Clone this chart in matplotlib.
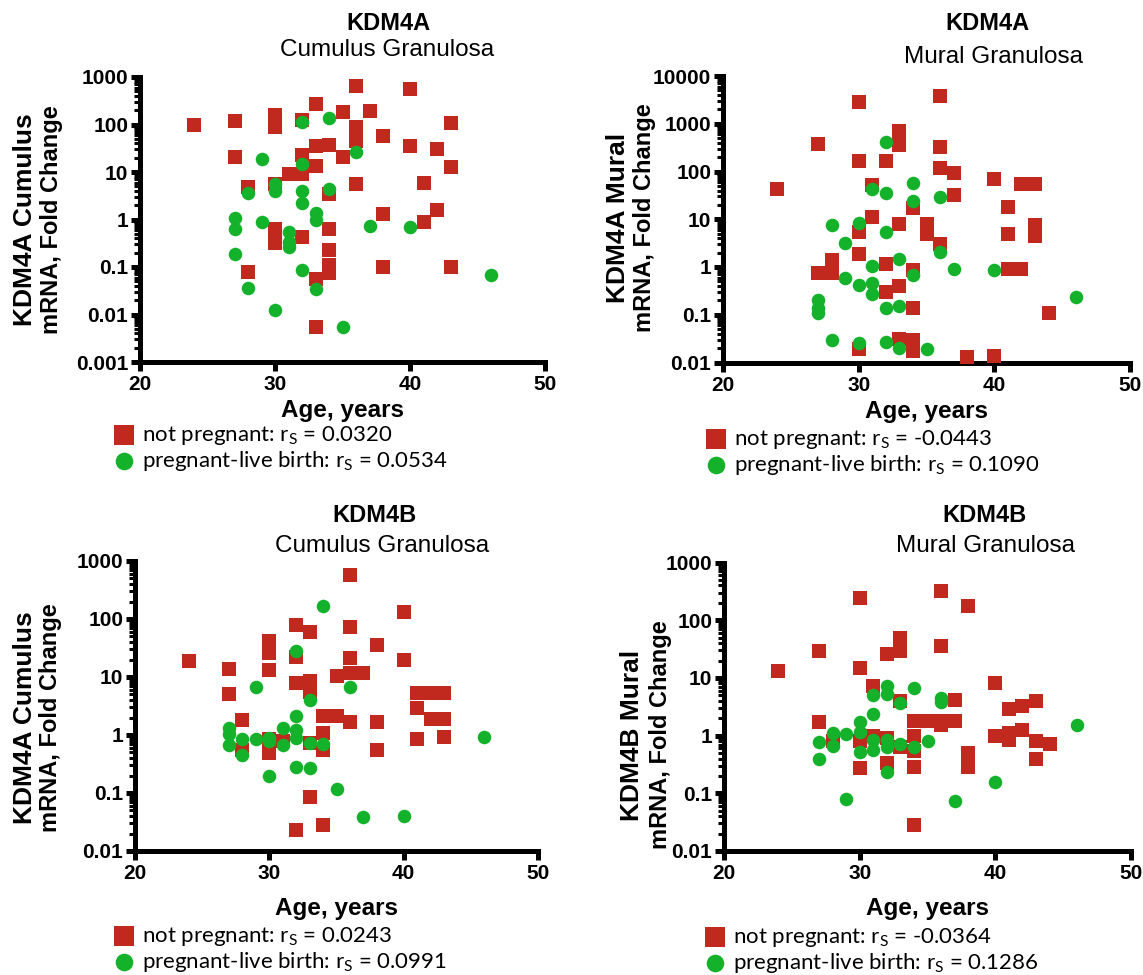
import numpy as np
import matplotlib.pyplot as plt
from matplotlib.ticker import FixedLocator, FuncFormatter, LogLocator, NullLocator

plt.rcParams['font.family'] = ['Liberation Sans', 'DejaVu Sans']
plt.rcParams['mathtext.fontset'] = 'custom'
plt.rcParams['mathtext.rm'] = 'Lato'

RED = '#C1291E'
GREEN = '#14B12A'

# ---- data (age in years, fold change) ----
# KDM4A cumulus
a_cum_np_age = [24, 27, 30, 30, 32, 33, 35, 36, 37, 40, 43, 36, 36, 38, 40, 42, 43, 27, 32, 33,
                34, 33, 31, 32, 28, 30, 34, 36, 41, 38, 42, 41, 30, 30, 32, 34, 34, 34, 34, 33,
                28, 38, 43, 33, 35]
a_cum_np_val = [100, 117, 158, 89, 124, 265, 180, 660, 190, 550, 105, 87, 45, 56, 35, 30, 12.6, 21, 23, 35,
                37, 13.5, 9, 9, 4.9, 5.6, 3.4, 5.5, 6, 1.3, 1.55, 0.9, 0.62, 0.32, 0.43, 0.62, 0.23, 0.11, 0.076, 0.056,
                0.078, 0.10, 0.10, 0.0054, 21]
a_cum_pl_age = [32, 34, 36, 29, 32, 28, 30, 30, 32, 32, 34, 33, 33, 27, 27, 29, 31, 31, 31, 37,
                40, 27, 32, 28, 33, 46, 30, 35]
a_cum_pl_val = [112, 134, 27, 18.6, 14.8, 3.7, 5.5, 3.9, 3.9, 2.2, 4.4, 1.35, 0.98, 1.1, 0.63, 0.89, 0.55, 0.34, 0.26, 0.72,
                0.69, 0.19, 0.087, 0.036, 0.034, 0.069, 0.0126, 0.0054]

# KDM4A mural
a_mur_np_age = [30, 36, 27, 33, 33, 36, 30, 32, 36, 37, 40, 24, 31, 42, 43, 37, 34, 41, 31, 33,
                35, 35, 30, 41, 43, 43, 36, 30, 28, 27, 28, 32, 34, 33, 32, 41, 42, 34, 44, 33,
                30, 34, 34, 38, 40]
a_mur_np_val = [2800, 3900, 375, 690, 355, 330, 166, 166, 120, 93, 71, 42, 52, 54, 54, 32, 17, 18, 11, 8.1,
                8.1, 5, 5.4, 5, 7.4, 4.4, 3.1, 1.9, 1.4, 0.76, 0.76, 1.15, 0.87, 0.40, 0.30, 0.93, 0.93, 0.14, 0.11, 0.031,
                0.0195, 0.029, 0.017, 0.013, 0.0135]
a_mur_pl_age = [32, 34, 31, 32, 34, 36, 28, 30, 32, 29, 36, 33, 31, 34, 37, 40, 29, 30, 31, 31,
                27, 27, 27, 32, 33, 46, 28, 30, 32, 33, 35]
a_mur_pl_val = [415, 58, 42, 35, 24, 29, 7.6, 8.5, 5.3, 3.2, 2.1, 1.45, 1.05, 0.67, 0.93, 0.85, 0.58, 0.43, 0.47, 0.27,
                0.2, 0.14, 0.11, 0.14, 0.155, 0.23, 0.030, 0.026, 0.027, 0.020, 0.019]

# KDM4B cumulus
b_cum_np_age = [36, 40, 32, 33, 36, 30, 30, 38, 32, 24, 27, 30, 36, 40, 35, 36, 37, 32, 33, 33,
                27, 41, 42, 43, 41, 42, 43, 34, 35, 36, 38, 34, 34, 28, 43, 41, 38, 30, 30, 31,
                33, 28, 33, 34, 32]
b_cum_np_val = [570, 130, 78, 59, 74, 41, 26, 36, 22, 19, 14, 13, 21, 19.5, 10.5, 11.6, 11.6, 7.8, 8.7, 5.6,
                5.0, 5.2, 5.2, 5.2, 2.9, 1.9, 1.9, 2.1, 2.1, 1.7, 1.7, 1.1, 0.55, 1.8, 0.93, 0.85, 0.56, 0.85, 0.48, 0.78,
                0.74, 0.55, 0.085, 0.028, 0.023]
b_cum_pl_age = [34, 32, 29, 36, 33, 32, 27, 27, 27, 28, 28, 29, 30, 30, 31, 31, 32, 32, 33, 34,
                32, 33, 30, 35, 37, 40, 46]
b_cum_pl_val = [170, 28, 6.6, 6.8, 4.0, 2.1, 1.3, 1.05, 0.67, 0.87, 0.46, 0.85, 0.9, 0.8, 1.3, 0.67, 1.2, 0.9, 0.74, 0.69,
                0.28, 0.27, 0.20, 0.115, 0.038, 0.040, 0.91]

# KDM4B mural
b_mur_np_age = [30, 36, 38, 33, 33, 32, 36, 27, 24, 30, 40, 31, 33, 37, 41, 42, 43, 34, 35, 36,
                37, 36, 27, 34, 34, 34, 31, 32, 30, 28, 33, 40, 41, 41, 42, 43, 44, 43, 38, 38,
                30, 32, 34]
b_mur_np_val = [247, 315, 173, 49, 29, 26, 36, 29, 13, 14.7, 8.1, 7.1, 3.9, 4.1, 2.9, 3.2, 3.9, 1.8, 1.8, 1.8,
                1.8, 1.5, 1.75, 1.0, 0.55, 0.28, 1.0, 0.9, 0.8, 0.8, 0.64, 1.0, 0.83, 1.1, 1.25, 0.81, 0.71, 0.39, 0.49, 0.29,
                0.27, 0.33, 0.028]
b_mur_pl_age = [32, 32, 34, 31, 36, 36, 33, 31, 30, 30, 46, 28, 29, 27, 28, 31, 31, 32, 32, 33,
                34, 35, 30, 27, 32, 40, 29, 37]
b_mur_pl_val = [7.2, 5.2, 6.7, 5.1, 4.4, 3.8, 3.7, 2.4, 1.7, 1.17, 1.55, 1.12, 1.07, 0.79, 0.66, 0.83, 0.56, 0.83, 0.64, 0.71,
                0.64, 0.81, 0.51, 0.39, 0.23, 0.16, 0.079, 0.074]

rs_np = ['0.0320', '-0.0443', '0.0243', '-0.0364']
rs_pl = ['0.0534', '0.1090', '0.0991', '0.1286']
genes = ['KDM4A', 'KDM4A', 'KDM4B', 'KDM4B']
cells = ['Cumulus Granulosa', 'Mural Granulosa', 'Cumulus Granulosa', 'Mural Granulosa']
ylab1 = ['KDM4A Cumulus', 'KDM4A Mural', 'KDM4A Cumulus', 'KDM4B Mural']
ylims = [(0.001, 1000), (0.01, 10000), (0.01, 1000), (0.01, 1000)]
data = [(a_cum_np_age, a_cum_np_val, a_cum_pl_age, a_cum_pl_val),
        (a_mur_np_age, a_mur_np_val, a_mur_pl_age, a_mur_pl_val),
        (b_cum_np_age, b_cum_np_val, b_cum_pl_age, b_cum_pl_val),
        (b_mur_np_age, b_mur_np_val, b_mur_pl_age, b_mur_pl_val)]

W, H = 1143, 975
fig = plt.figure(figsize=(W / 100, H / 100), dpi=100)

def fx(x):
    return x / W

def fy(y):
    return 1 - y / H

# axes boxes in pixels: left, right, top, bottom
boxes = [(140, 545, 77, 362), (723, 1130, 76, 362.5), (135, 538, 561, 851), (724, 1131, 562.5, 851)]
# text anchors in pixels
title_pos = [(388, 30, 387, 56), (987, 30, 993, 63), (375, 522, 382, 552), (984, 522, 985, 552)]
ylab_pos = [(25, 52, 220), (618, 645, 218), (25, 51, 718), (632, 660, 735)]
xlab_y = [411, 412, 908, 908]
leg_pos = [(114, 424), (706, 428), (114, 925), (705, 926)]

for i in range(4):
    l, r, t, b = boxes[i]
    ax = fig.add_axes([fx(l), fy(b), fx(r - l), (b - t) / H])
    npa, npv, pla, plv = data[i]
    h1 = ax.scatter(npa, npv, marker='s', s=112, color=RED, linewidths=0, zorder=3, clip_on=False)
    h2 = ax.scatter(pla, plv, marker='o', s=95, color=GREEN, linewidths=0, zorder=4, clip_on=False)

    ax.set_yscale('log')
    ax.set_xlim(20, 50)
    ax.set_ylim(*ylims[i])
    lo, hi = ylims[i]
    decs = [10.0 ** k for k in range(int(round(np.log10(lo))), int(round(np.log10(hi))) + 1)]
    ax.yaxis.set_major_locator(FixedLocator(decs))
    ax.yaxis.set_major_formatter(FuncFormatter(lambda v, p: '{:g}'.format(v)))
    ax.yaxis.set_minor_locator(LogLocator(base=10, subs=np.arange(2, 10), numticks=20))
    ax.xaxis.set_major_locator(FixedLocator([20, 30, 40, 50]))
    ax.xaxis.set_minor_locator(NullLocator())

    for s in ['top', 'right']:
        ax.spines[s].set_visible(False)
    for s in ['left', 'bottom']:
        ax.spines[s].set_linewidth(3.6)
        ax.spines[s].set_capstyle('projecting')
    ax.tick_params(which='major', length=6.5, width=3.6, direction='out', pad=2,
                   labelsize=15)
    ax.tick_params(which='minor', length=4, width=2.2, direction='out')
    for lab in ax.get_xticklabels() + ax.get_yticklabels():
        lab.set_fontweight('bold')
    ax.tick_params(axis='x', pad=3)

    tx1, ty1, tx2, ty2 = title_pos[i]
    fig.text(fx(tx1), fy(ty1), genes[i], ha='center', va='baseline', fontsize=17, fontweight='bold')
    fig.text(fx(tx2), fy(ty2), cells[i], ha='center', va='baseline', fontsize=17.5)

    yx1, yx2, yc = ylab_pos[i]
    fig.text(fx(yx1), fy(yc), ylab1[i], rotation=90, ha='center', va='center', fontsize=19, fontweight='bold')
    fig.text(fx(yx2), fy(yc), 'mRNA, Fold Change', rotation=90, ha='center', va='center',
             fontsize=17, fontweight='bold')

    fig.text(fx((l + r) / 2), fy(xlab_y[i]), 'Age, years', ha='center', va='center',
             fontsize=17.5, fontweight='bold')

    lx, ly = leg_pos[i]
    labels = [r'not pregnant: r$_\mathrm{S}$ = ' + rs_np[i],
              r'pregnant-live birth: r$_\mathrm{S}$ = ' + rs_pl[i]]
    leg = ax.legend([h1, h2], labels, loc='upper left', bbox_to_anchor=(fx(lx), fy(ly)),
                    bbox_transform=fig.transFigure, frameon=False, borderpad=0, borderaxespad=0,
                    handlelength=0.9, handletextpad=0.35, labelspacing=0.1, markerscale=1.3,
                    prop={'family': 'Lato', 'size': 16})

plt.savefig('out.png', dpi=100)
